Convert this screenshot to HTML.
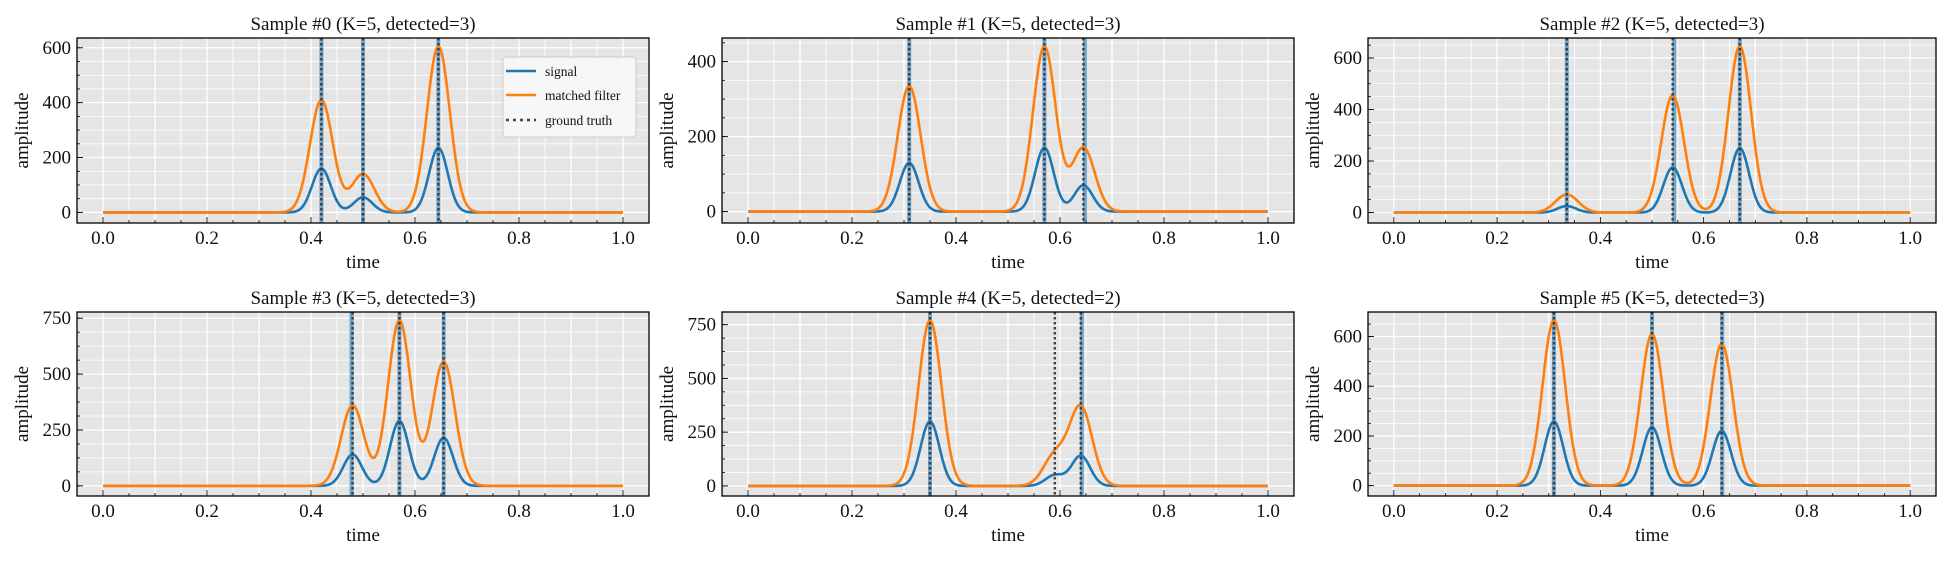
<!DOCTYPE html>
<html><head><meta charset="utf-8"><style>
body{margin:0;background:#fff;}
svg text{font-family:"Liberation Serif",serif;fill:#111;}
</style></head><body>
<svg id="fig" width="1950" height="560" xmlns="http://www.w3.org/2000/svg"></svg>
<script>
// ---- data per panel ----
const sampleIds = [0,1,2,3,4,5];
const detectedCounts = [3,3,3,3,2,3];
const truthTimes = [[0.42,0.50,0.645],[0.31,0.57,0.645],[0.335,0.54,0.67],[0.48,0.57,0.655],[0.35,0.59,0.64],[0.31,0.50,0.635]];
const detectedTimes = [[0.42,0.50,0.645],[0.31,0.57,0.648],[0.335,0.543,0.67],[0.478,0.57,0.655],[0.35,0.642],[0.31,0.50,0.636]];
const signalPeaks = [[160,55,235],[130,170,70],[25,175,250],[140,290,215],[300,50,140],[258,235,220]];
const filterPeaks = [[410,140,605],[335,440,170],[70,455,645],[360,740,555],[770,140,365],[665,610,570]];
const yTicks = [[0,200,400,600],[0,200,400],[0,200,400,600],[0,250,500,750],[0,250,500,750],[0,200,400,600]];
const xTicks = [0.0,0.2,0.4,0.6,0.8,1.0];
const xTickLabels = ["0.0","0.2","0.4","0.6","0.8","1.0"];

const NS="http://www.w3.org/2000/svg";
const svg=document.getElementById('fig');
function mk(tag,attrs,parent){const e=document.createElementNS(NS,tag);for(const k in attrs)e.setAttribute(k,attrs[k]);(parent||svg).appendChild(e);return e;}
const cols=[[77,649],[722,1294],[1368,1936]];
const rows=[[38,223],[312,496]];
function gauss(t,c,s){return Math.exp(-0.5*((t-c)/s)*((t-c)/s));}

for(let p=0;p<6;p++){
  const [x0,x1]=cols[p%3],[y0,y1]=rows[Math.floor(p/3)];
  const g=mk('g',{});
  
  
  const tt=truthTimes[p];
  const sig=t=>tt.reduce((a,c,i)=>a+signalPeaks[p][i]*gauss(t,c,0.018),0);
  const fil=t=>tt.reduce((a,c,i)=>a+filterPeaks[p][i]*gauss(t,c,0.022),0);
  let ymax=-1e9;const N=600;
  for(let i=0;i<=N;i++){const t=i/N;ymax=Math.max(ymax,sig(t),fil(t));}
  const ymin=-8,pad=(ymax-ymin)*0.05;
  const Y0=ymin-pad,Y1=ymax+pad;
  const sx=t=>x0+(t+0.05)/1.1*(x1-x0);
  const sy=v=>y1-(v-Y0)/(Y1-Y0)*(y1-y0);
  const bg=mk('rect',{x:x0,y:y0,width:x1-x0,height:y1-y0,fill:'#e5e5e5'},g);
  
  
  const step=yTicks[p][1]-yTicks[p][0], minor=step/4;
  for(let v=Math.ceil(Y0/minor)*minor;v<=Y1;v+=minor){
    mk('line',{x1:x0,x2:x1,y1:sy(v),y2:sy(v),stroke:'#fff','stroke-width':(Math.abs(v%step)<1e-6?1.3:0.8)},g);
    mk('line',{x1:x0,x2:x0+3,y1:sy(v),y2:sy(v),stroke:'#000','stroke-width':0.8},g);
  }
  for(let k=0;k<=20;k++){const t=k*0.05;
    mk('line',{x1:sx(t),x2:sx(t),y1:y0,y2:y1,stroke:'#fff','stroke-width':(k%2===0?1.3:0.8)},g);
    mk('line',{x1:sx(t),x2:sx(t),y1:y1,y2:y1-(k%4===0?6:3),stroke:'#000','stroke-width':0.8},g);
  }
  detectedTimes[p].forEach(t=>{const l=mk('line',{x1:sx(t),x2:sx(t),y1:y0,y2:y1,stroke:'#1f77b4','stroke-opacity':0.6,'stroke-width':4},g);
    
    });
  const series=[[sig,'#1f77b4','signal-line'],[fil,'#ff7f0e','matched-filter-line']];
  series.forEach(([f,c,n])=>{let d='';for(let i=0;i<=N;i++){const t=i/N;d+=(i?'L':'M')+sx(t).toFixed(1)+' '+sy(f(t)).toFixed(1);}
    const pth=mk('path',{d:d,fill:'none',stroke:c,'stroke-width':2.6,'stroke-linejoin':'round'},g);
    
    });
  tt.forEach(t=>{const l=mk('line',{x1:sx(t),x2:sx(t),y1:y0,y2:y1,stroke:'#333','stroke-width':2.4,'stroke-dasharray':'2.5,2.5','stroke-opacity':0.9},g);
    
    });
  const fr=mk('rect',{x:x0,y:y0,width:x1-x0,height:y1-y0,fill:'none',stroke:'#000','stroke-width':1.3},g);
  
  
  yTicks[p].forEach(v=>{mk('line',{x1:x0,x2:x0+6,y1:sy(v),y2:sy(v),stroke:'#000','stroke-width':0.9},g);
    const tx=mk('text',{x:x0-6,y:sy(v)+6,'text-anchor':'end','font-size':19},g);tx.textContent=v;
    
    });
  xTicks.forEach((t,i)=>{const tx=mk('text',{x:sx(t),y:y1+21,'text-anchor':'middle','font-size':19},g);tx.textContent=xTickLabels[i];
    
    });
  const xl=mk('text',{x:(x0+x1)/2,y:y1+45,'text-anchor':'middle','font-size':19},g);xl.textContent='time';
  
  
  const cy=(y0+y1)/2, yl=mk('text',{x:0,y:0,'text-anchor':'middle','font-size':19,transform:`translate(${x0-49},${cy}) rotate(-90)`},g);yl.textContent='amplitude';
  
  
  const ti=mk('text',{x:(x0+x1)/2,y:y0-8,'text-anchor':'middle','font-size':19},g);ti.textContent=`Sample #${sampleIds[p]} (K=5, detected=${detectedCounts[p]})`;
  
  
}
// legend
const lg=mk('g',{});


mk('rect',{x:503,y:57,width:133,height:80,rx:3,fill:'#f7f7f7','fill-opacity':0.9,stroke:'#ccc','stroke-width':1},lg);
const ent=[['signal','#1f77b4',null,71],['matched filter','#ff7f0e',null,95],['ground truth','#444','3,4',120]];
ent.forEach(([lab,c,da,y])=>{const a={x1:506,x2:536,y1:y,y2:y,stroke:c,'stroke-width':2.6};if(da)a['stroke-dasharray']=da;mk('line',a,lg);
  const t=mk('text',{x:545,y:y+5,'font-size':13.5},lg);t.textContent=lab;
  
  });
</script>
</body></html>
